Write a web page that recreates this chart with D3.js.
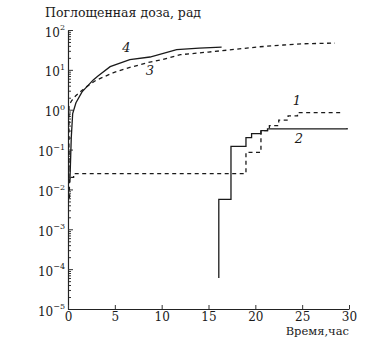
<!DOCTYPE html>
<html>
<head>
<meta charset="utf-8">
<script src="https://cdn.jsdelivr.net/npm/d3@7"></script>
<style>
  body { margin: 0; background: #fff; }
</style>
</head>
<body>
<div id="chart"></div>
<script>
// curve 1 (dashed), curve 2 (solid), curve 3 (dashed), curve 4 (solid)
const t1 = [0.15, 0.15, 0.6, 19.0, 20.6, 21.5, 22.5, 23.5, 24.5, 29.2];
const d1 = [0.006, 0.02, 0.025, 0.085, 0.3, 0.4, 0.55, 0.7, 0.85, 0.85];

const t2 = [16.1, 16.1, 17.4, 19.0, 19.6, 20.6, 21.3, 29.8];
const d2 = [6e-5, 0.0056, 0.12, 0.2, 0.25, 0.3, 0.33, 0.35];

const t3 = [0.1, 0.1, 0.4, 0.8, 1.3, 2, 3, 4.8, 6, 8.4, 10, 12, 15, 18, 20.5, 23, 25, 28.5];
const d3v = [0.02, 1.3, 1.7, 2.2, 2.8, 3.8, 5.5, 8.4, 10.5, 15, 18, 24, 28, 33, 38, 42, 45, 47];

const t4 = [0.2, 0.35, 0.5, 0.85, 1.5, 2.7, 3.2, 4.5, 6.6, 8.75, 11.6, 14, 16.4];
const d4 = [0.015, 0.2, 0.8, 1.5, 2.8, 5.6, 7, 12, 18, 21, 32, 35, 37];

const xTicks = [0, 5, 10, 15, 20, 25, 30];
const yExps = [-5, -4, -3, -2, -1, 0, 1, 2];

const curveLabels = [
  { text: '1', t: 24.0, d: 1.3 },
  { text: '2', t: 24.2, d: 0.147 },
  { text: '3', t: 8.3, d: 7.5 },
  { text: '4', t: 5.8, d: 28 }
];

const FONT = 'DejaVu Serif';
const width = 375, height = 364;
const svg = d3.select('#chart').append('svg')
  .attr('width', width)
  .attr('height', height)
  .style('font-family', FONT);

const x = d3.scaleLinear().domain([0, 30]).range([68, 349]);
const y = d3.scaleLog().domain([1e-5, 1e2]).range([309, 30]);

// minor log ticks
const minor = [];
yExps.slice(0, -1).forEach(e => {
  for (let k = 2; k <= 9; k++) minor.push(k * Math.pow(10, e));
});

svg.append('g')
  .attr('transform', 'translate(68,0)')
  .call(d3.axisLeft(y).tickValues(minor).tickSize(-3).tickFormat(''))
  .call(g => g.select('.domain').remove())
  .selectAll('line').attr('stroke', '#333');

const yAxis = svg.append('g')
  .attr('transform', 'translate(68,0)')
  .call(d3.axisLeft(y)
    .tickValues(yExps.map(e => Math.pow(10, e)))
    .tickSize(-5)
    .tickSizeOuter(0)
    .tickPadding(5)
    .tickFormat(''));
yAxis.attr('font-family', null);
yAxis.select('.domain').attr('stroke', '#222').attr('stroke-width', 1.2);
yAxis.selectAll('line').attr('stroke', '#333');
yAxis.selectAll('.tick text').each(function(d, i) {
  const t = d3.select(this)
    .attr('font-size', 12)
    .attr('fill', '#1a1a1a')
    .attr('dy', '0.5em')
    .attr('x', -3)
    .attr('text-anchor', 'end');
  t.append('tspan').text('10');
  t.append('tspan').attr('font-size', 8).attr('dy', '-0.8em')
    .text(yExps[i] < 0 ? '\u2212' + (-yExps[i]) : yExps[i]);
});

const xAxis = svg.append('g')
  .attr('transform', 'translate(0,309)')
  .call(d3.axisBottom(x).tickValues(xTicks).tickSize(-4).tickSizeOuter(0).tickPadding(3));
xAxis.attr('font-family', null);
xAxis.select('.domain').attr('stroke', '#222').attr('stroke-width', 1.2);
xAxis.selectAll('line').attr('stroke', '#333');
xAxis.selectAll('text')
  .attr('font-size', 12)
  .attr('fill', '#1a1a1a');

const line = (curve) => d3.line()
  .x(d => x(d[0]))
  .y(d => y(d[1]))
  .curve(curve);

const series = [
  { t: t1, d: d1, dash: '4,3.5', curve: d3.curveStepAfter },
  { t: t2, d: d2, dash: null, curve: d3.curveStepAfter },
  { t: t3, d: d3v, dash: '4,3.5', curve: d3.curveLinear },
  { t: t4, d: d4, dash: null, curve: d3.curveLinear }
];

series.forEach(s => {
  svg.append('path')
    .datum(s.t.map((v, i) => [v, s.d[i]]))
    .attr('d', line(s.curve))
    .attr('fill', 'none')
    .attr('stroke', '#1a1a1a')
    .attr('stroke-width', 1.3)
    .attr('stroke-dasharray', s.dash);
});

svg.selectAll('.clabel')
  .data(curveLabels)
  .enter().append('text')
  .attr('class', 'clabel')
  .attr('x', d => x(d.t))
  .attr('y', d => y(d.d))
  .attr('font-size', 13)
  .attr('font-style', 'italic')
  .attr('fill', '#1a1a1a')
  .text(d => d.text);

svg.append('text')
  .attr('x', 45)
  .attr('y', 17)
  .attr('font-size', 12.5)
  .attr('fill', '#1a1a1a')
  .text('Поглощенная доза, рад');

svg.append('text')
  .attr('x', 349)
  .attr('y', 335)
  .attr('text-anchor', 'end')
  .attr('font-size', 11.5)
  .attr('fill', '#1a1a1a')
  .text('Время,час');
</script>
</body>
</html>
